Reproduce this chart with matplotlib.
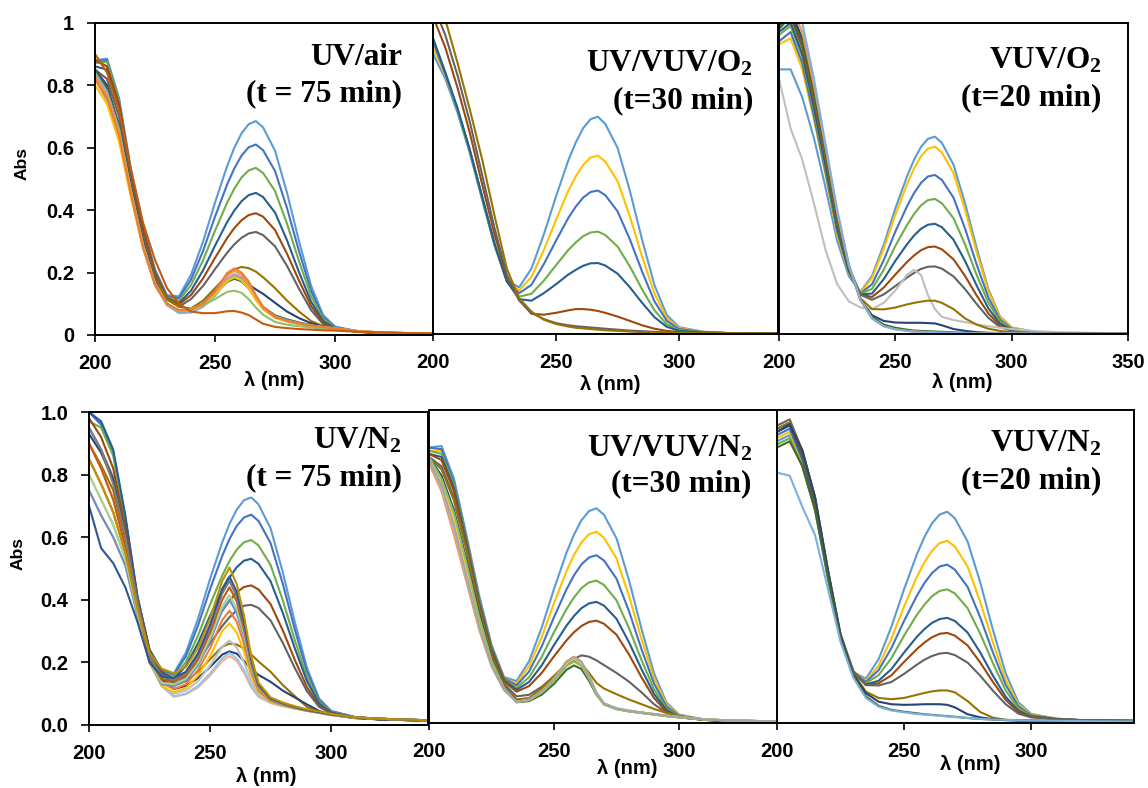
import matplotlib
matplotlib.use('Agg')
import matplotlib.pyplot as plt

plt.rcParams['mathtext.fontset'] = 'custom'
plt.rcParams['mathtext.rm'] = 'Liberation Serif:bold'
plt.rcParams['mathtext.bf'] = 'Liberation Serif:bold'
plt.rcParams['mathtext.it'] = 'Liberation Serif:bold'

# ---------------- data ----------------
wavelength = [200, 205, 210, 215, 220, 225, 230, 235, 240, 245, 250, 255, 258, 261,
              264, 267, 270, 275, 280, 285, 290, 295, 300, 310, 320, 340, 350]

# Panel: UV/air (t = 75 min)
uv_air_colors = ['#5B9BD5', '#4472C4', '#70AD47', '#255E91', '#9E480E', '#636363', '#997300',
                 '#264478', '#43682B', '#7CAFDD', '#A5A5A5', '#FFC000', '#8CC168', '#F1975A',
                 '#ED7D31', '#C55A11']
uv_air_abs = [
    [0.88, 0.885, 0.76, 0.53, 0.35, 0.21, 0.127, 0.124, 0.193, 0.299, 0.424, 0.54, 0.599, 0.645, 0.675, 0.685, 0.665, 0.59, 0.455, 0.30, 0.158, 0.064, 0.027, 0.011, 0.006, 0.004, 0.003],
    [0.875, 0.88, 0.75, 0.52, 0.34, 0.205, 0.124, 0.118, 0.177, 0.269, 0.379, 0.481, 0.533, 0.574, 0.601, 0.61, 0.592, 0.525, 0.406, 0.268, 0.142, 0.058, 0.025, 0.011, 0.006, 0.004, 0.003],
    [0.87, 0.875, 0.75, 0.52, 0.34, 0.2, 0.12, 0.11, 0.16, 0.239, 0.334, 0.423, 0.468, 0.504, 0.527, 0.535, 0.519, 0.461, 0.356, 0.236, 0.125, 0.052, 0.023, 0.011, 0.006, 0.004, 0.003],
    [0.86, 0.85, 0.73, 0.51, 0.33, 0.195, 0.116, 0.102, 0.142, 0.207, 0.286, 0.361, 0.398, 0.428, 0.448, 0.455, 0.442, 0.392, 0.303, 0.201, 0.107, 0.045, 0.021, 0.010, 0.006, 0.004, 0.003],
    [0.88, 0.86, 0.74, 0.52, 0.34, 0.2, 0.119, 0.098, 0.128, 0.181, 0.247, 0.31, 0.342, 0.367, 0.384, 0.39, 0.379, 0.336, 0.26, 0.174, 0.093, 0.04, 0.019, 0.010, 0.006, 0.004, 0.003],
    [0.85, 0.82, 0.70, 0.49, 0.32, 0.19, 0.113, 0.091, 0.115, 0.157, 0.211, 0.263, 0.29, 0.311, 0.325, 0.33, 0.32, 0.284, 0.221, 0.148, 0.08, 0.035, 0.018, 0.010, 0.006, 0.004, 0.003],
    [0.84, 0.78, 0.66, 0.47, 0.30, 0.18, 0.115, 0.09, 0.085, 0.11, 0.15, 0.19, 0.21, 0.218, 0.214, 0.203, 0.185, 0.15, 0.11, 0.075, 0.045, 0.028, 0.02, 0.011, 0.007, 0.004, 0.003],
    [0.85, 0.80, 0.67, 0.47, 0.30, 0.17, 0.10, 0.075, 0.08, 0.10, 0.14, 0.178, 0.185, 0.178, 0.162, 0.146, 0.132, 0.103, 0.075, 0.054, 0.038, 0.027, 0.02, 0.011, 0.007, 0.004, 0.003],
    [0.85, 0.79, 0.67, 0.47, 0.29, 0.165, 0.098, 0.075, 0.08, 0.097, 0.13, 0.17, 0.18, 0.172, 0.15, 0.118, 0.09, 0.063, 0.05, 0.04, 0.032, 0.026, 0.021, 0.012, 0.008, 0.004, 0.003],
    [0.84, 0.78, 0.66, 0.46, 0.28, 0.16, 0.095, 0.07, 0.072, 0.09, 0.125, 0.175, 0.19, 0.18, 0.155, 0.118, 0.088, 0.06, 0.047, 0.038, 0.031, 0.026, 0.022, 0.012, 0.008, 0.004, 0.003],
    [0.82, 0.75, 0.63, 0.45, 0.28, 0.16, 0.097, 0.075, 0.078, 0.095, 0.133, 0.18, 0.195, 0.185, 0.16, 0.12, 0.087, 0.057, 0.045, 0.036, 0.03, 0.025, 0.021, 0.012, 0.008, 0.004, 0.003],
    [0.80, 0.74, 0.62, 0.44, 0.28, 0.165, 0.10, 0.078, 0.08, 0.095, 0.13, 0.172, 0.185, 0.175, 0.15, 0.112, 0.082, 0.055, 0.043, 0.035, 0.029, 0.024, 0.02, 0.012, 0.008, 0.004, 0.003],
    [0.83, 0.77, 0.65, 0.46, 0.29, 0.165, 0.10, 0.078, 0.085, 0.095, 0.115, 0.138, 0.142, 0.135, 0.115, 0.088, 0.065, 0.042, 0.033, 0.028, 0.024, 0.02, 0.017, 0.011, 0.007, 0.004, 0.003],
    [0.83, 0.77, 0.65, 0.46, 0.29, 0.165, 0.10, 0.078, 0.08, 0.098, 0.137, 0.19, 0.205, 0.193, 0.165, 0.122, 0.086, 0.056, 0.044, 0.036, 0.03, 0.025, 0.021, 0.012, 0.008, 0.004, 0.003],
    [0.82, 0.76, 0.64, 0.45, 0.28, 0.16, 0.10, 0.08, 0.082, 0.10, 0.14, 0.198, 0.213, 0.20, 0.172, 0.128, 0.09, 0.058, 0.045, 0.037, 0.03, 0.025, 0.021, 0.012, 0.008, 0.004, 0.003],
    [0.90, 0.84, 0.72, 0.53, 0.36, 0.24, 0.15, 0.10, 0.075, 0.07, 0.07, 0.076, 0.077, 0.072, 0.064, 0.05, 0.036, 0.026, 0.022, 0.019, 0.017, 0.015, 0.014, 0.01, 0.008, 0.005, 0.004],
]

# Panel: UV/VUV/O2 (t=30 min)
uv_vuv_o2_colors = ['#5B9BD5', '#FFC000', '#4472C4', '#70AD47', '#255E91', '#9E480E', '#636363', '#997300']
uv_vuv_o2_abs = [
    [0.90, 0.82, 0.71, 0.58, 0.43, 0.285, 0.172, 0.15, 0.21, 0.319, 0.442, 0.558, 0.615, 0.661, 0.69, 0.698, 0.675, 0.598, 0.46, 0.302, 0.157, 0.061, 0.022, 0.007, 0.003, 0.002, 0.002],
    [0.92, 0.83, 0.72, 0.59, 0.44, 0.29, 0.17, 0.14, 0.183, 0.269, 0.367, 0.46, 0.506, 0.543, 0.567, 0.573, 0.554, 0.491, 0.378, 0.248, 0.13, 0.051, 0.019, 0.007, 0.003, 0.002, 0.002],
    [0.94, 0.835, 0.72, 0.59, 0.44, 0.29, 0.17, 0.131, 0.158, 0.224, 0.30, 0.373, 0.409, 0.438, 0.456, 0.461, 0.446, 0.394, 0.304, 0.20, 0.105, 0.042, 0.016, 0.006, 0.003, 0.002, 0.002],
    [0.95, 0.84, 0.72, 0.585, 0.435, 0.285, 0.168, 0.12, 0.129, 0.171, 0.221, 0.27, 0.294, 0.314, 0.326, 0.329, 0.318, 0.281, 0.217, 0.143, 0.076, 0.031, 0.013, 0.005, 0.003, 0.002, 0.002],
    [0.95, 0.84, 0.725, 0.59, 0.44, 0.29, 0.17, 0.112, 0.107, 0.131, 0.16, 0.191, 0.206, 0.219, 0.227, 0.228, 0.22, 0.194, 0.15, 0.10, 0.054, 0.023, 0.01, 0.005, 0.003, 0.002, 0.002],
    [1.02, 0.92, 0.79, 0.645, 0.48, 0.32, 0.185, 0.11, 0.065, 0.062, 0.068, 0.076, 0.08, 0.08, 0.078, 0.074, 0.068, 0.056, 0.042, 0.028, 0.017, 0.01, 0.006, 0.004, 0.003, 0.002, 0.002],
    [1.06, 0.96, 0.83, 0.68, 0.51, 0.34, 0.19, 0.108, 0.068, 0.048, 0.035, 0.028, 0.025, 0.023, 0.021, 0.019, 0.017, 0.014, 0.011, 0.009, 0.007, 0.005, 0.004, 0.003, 0.002, 0.002, 0.002],
    [1.12, 1.01, 0.87, 0.72, 0.56, 0.38, 0.21, 0.115, 0.072, 0.046, 0.032, 0.024, 0.02, 0.018, 0.016, 0.014, 0.012, 0.01, 0.008, 0.006, 0.005, 0.004, 0.003, 0.002, 0.002, 0.001, 0.001],
]

# Panel: VUV/O2 (t=20 min)
vuv_o2_colors = ['#5B9BD5', '#FFC000', '#4472C4', '#70AD47', '#255E91', '#9E480E', '#636363',
                 '#BFBFBF', '#997300', '#264478', '#43682B', '#F1975A', '#7CAFDD']
vuv_o2_abs = [
    [0.85, 0.85, 0.76, 0.63, 0.47, 0.30, 0.186, 0.135, 0.187, 0.286, 0.403, 0.506, 0.559, 0.601, 0.627, 0.634, 0.614, 0.544, 0.419, 0.275, 0.144, 0.056, 0.021, 0.007, 0.003, 0.002, 0.002],
    [0.93, 0.95, 0.85, 0.69, 0.51, 0.32, 0.196, 0.132, 0.18, 0.274, 0.383, 0.481, 0.531, 0.571, 0.595, 0.602, 0.583, 0.517, 0.398, 0.261, 0.137, 0.053, 0.02, 0.007, 0.003, 0.002, 0.002],
    [0.94, 0.97, 0.87, 0.70, 0.52, 0.33, 0.20, 0.13, 0.16, 0.237, 0.329, 0.41, 0.452, 0.485, 0.506, 0.511, 0.495, 0.438, 0.338, 0.222, 0.117, 0.046, 0.017, 0.006, 0.003, 0.002, 0.002],
    [0.96, 0.99, 0.89, 0.72, 0.53, 0.335, 0.204, 0.129, 0.145, 0.206, 0.283, 0.35, 0.385, 0.413, 0.43, 0.434, 0.42, 0.372, 0.287, 0.189, 0.10, 0.04, 0.016, 0.006, 0.003, 0.002, 0.002],
    [0.97, 1.0, 0.90, 0.73, 0.54, 0.34, 0.203, 0.127, 0.13, 0.176, 0.235, 0.288, 0.316, 0.338, 0.351, 0.354, 0.343, 0.303, 0.234, 0.155, 0.082, 0.033, 0.014, 0.005, 0.003, 0.002, 0.002],
    [0.99, 1.02, 0.92, 0.75, 0.56, 0.355, 0.213, 0.126, 0.119, 0.149, 0.191, 0.231, 0.252, 0.269, 0.279, 0.281, 0.272, 0.24, 0.186, 0.123, 0.066, 0.027, 0.012, 0.005, 0.003, 0.002, 0.002],
    [0.99, 1.03, 0.93, 0.76, 0.57, 0.36, 0.217, 0.126, 0.11, 0.127, 0.154, 0.181, 0.196, 0.209, 0.216, 0.217, 0.21, 0.185, 0.144, 0.096, 0.052, 0.022, 0.01, 0.005, 0.003, 0.002, 0.002],
    [0.82, 0.66, 0.56, 0.42, 0.27, 0.16, 0.105, 0.085, 0.08, 0.10, 0.14, 0.19, 0.206, 0.19, 0.125, 0.08, 0.055, 0.045, 0.038, 0.031, 0.025, 0.02, 0.016, 0.009, 0.006, 0.003, 0.003],
    [1.0, 1.04, 0.94, 0.77, 0.58, 0.37, 0.22, 0.115, 0.08, 0.079, 0.085, 0.095, 0.10, 0.104, 0.107, 0.107, 0.10, 0.08, 0.05, 0.03, 0.017, 0.01, 0.006, 0.004, 0.003, 0.002, 0.002],
    [1.0, 1.04, 0.95, 0.78, 0.59, 0.38, 0.22, 0.11, 0.06, 0.042, 0.037, 0.036, 0.036, 0.036, 0.035, 0.034, 0.028, 0.016, 0.01, 0.006, 0.004, 0.003, 0.002, 0.002, 0.002, 0.002, 0.002],
    [0.98, 1.02, 0.94, 0.78, 0.59, 0.38, 0.22, 0.11, 0.055, 0.03, 0.02, 0.014, 0.011, 0.01, 0.009, 0.008, 0.007, 0.005, 0.004, 0.003, 0.003, 0.002, 0.002, 0.002, 0.002, 0.001, 0.001],
    [1.05, 1.06, 0.97, 0.80, 0.60, 0.39, 0.22, 0.11, 0.05, 0.025, 0.015, 0.01, 0.008, 0.007, 0.006, 0.005, 0.004, 0.003, 0.003, 0.002, 0.002, 0.002, 0.002, 0.002, 0.001, 0.001, 0.001],
    [1.07, 1.08, 1.0, 0.82, 0.61, 0.40, 0.225, 0.11, 0.05, 0.025, 0.015, 0.01, 0.008, 0.007, 0.006, 0.005, 0.004, 0.003, 0.003, 0.002, 0.002, 0.002, 0.002, 0.002, 0.001, 0.001, 0.001],
]

# Panel: UV/N2 (t = 75 min)
uv_n2_colors = ['#5B9BD5', '#4472C4', '#70AD47', '#255E91', '#9E480E', '#636363', '#997300', '#264478',
                '#F4B183', '#9DC3E6', '#BFBFBF', '#FFC000', '#ED7D31', '#698ED0', '#A9D18E',
                '#C55A11', '#7F7F7F', '#2F5597', '#BF9000']
uv_n2_abs = [
    [1.0, 0.96, 0.87, 0.66, 0.41, 0.24, 0.177, 0.165, 0.231, 0.339, 0.467, 0.583, 0.642, 0.688, 0.718, 0.727, 0.705, 0.628, 0.489, 0.329, 0.183, 0.085, 0.045, 0.025, 0.018, 0.014, 0.012],
    [1.0, 0.96, 0.87, 0.66, 0.41, 0.24, 0.176, 0.16, 0.219, 0.317, 0.434, 0.54, 0.594, 0.636, 0.663, 0.672, 0.652, 0.581, 0.452, 0.305, 0.171, 0.08, 0.044, 0.025, 0.018, 0.014, 0.012],
    [0.97, 0.95, 0.86, 0.65, 0.40, 0.235, 0.171, 0.152, 0.201, 0.285, 0.385, 0.477, 0.524, 0.56, 0.584, 0.591, 0.574, 0.511, 0.399, 0.271, 0.153, 0.074, 0.042, 0.025, 0.018, 0.014, 0.012],
    [1.0, 0.97, 0.88, 0.67, 0.41, 0.24, 0.17, 0.147, 0.188, 0.261, 0.349, 0.43, 0.471, 0.504, 0.525, 0.531, 0.515, 0.459, 0.359, 0.245, 0.14, 0.069, 0.04, 0.024, 0.018, 0.014, 0.012],
    [0.98, 0.92, 0.82, 0.63, 0.40, 0.235, 0.164, 0.137, 0.167, 0.227, 0.298, 0.364, 0.397, 0.424, 0.441, 0.446, 0.433, 0.386, 0.303, 0.208, 0.121, 0.062, 0.038, 0.024, 0.018, 0.014, 0.012],
    [0.95, 0.88, 0.79, 0.61, 0.39, 0.23, 0.161, 0.131, 0.153, 0.203, 0.261, 0.316, 0.344, 0.366, 0.381, 0.384, 0.374, 0.334, 0.263, 0.182, 0.108, 0.058, 0.037, 0.024, 0.018, 0.014, 0.012],
    [0.90, 0.83, 0.75, 0.58, 0.38, 0.22, 0.15, 0.125, 0.14, 0.17, 0.21, 0.25, 0.26, 0.257, 0.245, 0.225, 0.203, 0.17, 0.128, 0.092, 0.058, 0.04, 0.032, 0.022, 0.018, 0.014, 0.012],
    [0.93, 0.87, 0.78, 0.60, 0.38, 0.22, 0.145, 0.115, 0.125, 0.15, 0.185, 0.225, 0.235, 0.228, 0.205, 0.178, 0.16, 0.138, 0.11, 0.088, 0.066, 0.045, 0.033, 0.022, 0.018, 0.014, 0.012],
    [0.90, 0.82, 0.72, 0.57, 0.38, 0.21, 0.125, 0.09, 0.098, 0.12, 0.158, 0.204, 0.22, 0.205, 0.168, 0.12, 0.09, 0.07, 0.06, 0.052, 0.045, 0.039, 0.032, 0.024, 0.02, 0.015, 0.013],
    [0.85, 0.77, 0.68, 0.55, 0.37, 0.21, 0.125, 0.092, 0.10, 0.125, 0.165, 0.213, 0.23, 0.213, 0.175, 0.125, 0.093, 0.072, 0.061, 0.053, 0.045, 0.039, 0.032, 0.024, 0.02, 0.015, 0.013],
    [0.80, 0.72, 0.64, 0.53, 0.36, 0.20, 0.125, 0.10, 0.11, 0.14, 0.19, 0.25, 0.27, 0.248, 0.20, 0.14, 0.098, 0.073, 0.062, 0.053, 0.045, 0.039, 0.032, 0.024, 0.02, 0.015, 0.013],
    [0.75, 0.67, 0.60, 0.51, 0.35, 0.20, 0.125, 0.105, 0.118, 0.158, 0.22, 0.30, 0.325, 0.295, 0.235, 0.158, 0.105, 0.075, 0.063, 0.054, 0.046, 0.04, 0.033, 0.024, 0.02, 0.015, 0.013],
    [0.85, 0.77, 0.68, 0.55, 0.37, 0.21, 0.135, 0.115, 0.13, 0.175, 0.245, 0.335, 0.365, 0.33, 0.26, 0.17, 0.11, 0.077, 0.064, 0.054, 0.046, 0.04, 0.033, 0.024, 0.02, 0.015, 0.013],
    [0.75, 0.67, 0.60, 0.51, 0.35, 0.20, 0.13, 0.125, 0.142, 0.19, 0.268, 0.365, 0.40, 0.358, 0.28, 0.18, 0.115, 0.079, 0.065, 0.055, 0.046, 0.04, 0.033, 0.024, 0.02, 0.015, 0.013],
    [0.80, 0.72, 0.64, 0.53, 0.36, 0.20, 0.135, 0.13, 0.148, 0.198, 0.278, 0.378, 0.415, 0.372, 0.29, 0.185, 0.118, 0.08, 0.066, 0.055, 0.046, 0.04, 0.033, 0.024, 0.02, 0.015, 0.013],
    [0.90, 0.82, 0.72, 0.57, 0.38, 0.21, 0.145, 0.14, 0.158, 0.21, 0.295, 0.40, 0.44, 0.395, 0.305, 0.195, 0.122, 0.082, 0.067, 0.056, 0.047, 0.04, 0.033, 0.024, 0.02, 0.015, 0.013],
    [0.95, 0.88, 0.77, 0.60, 0.39, 0.22, 0.155, 0.145, 0.165, 0.22, 0.31, 0.42, 0.46, 0.41, 0.32, 0.20, 0.125, 0.083, 0.068, 0.057, 0.048, 0.041, 0.034, 0.025, 0.02, 0.015, 0.013],
    [0.70, 0.565, 0.517, 0.44, 0.33, 0.20, 0.155, 0.15, 0.17, 0.228, 0.32, 0.435, 0.475, 0.425, 0.33, 0.21, 0.13, 0.085, 0.07, 0.058, 0.048, 0.041, 0.034, 0.025, 0.02, 0.015, 0.013],
    [0.85, 0.77, 0.68, 0.55, 0.37, 0.23, 0.18, 0.165, 0.185, 0.245, 0.34, 0.46, 0.503, 0.45, 0.35, 0.22, 0.135, 0.088, 0.072, 0.06, 0.05, 0.043, 0.035, 0.025, 0.02, 0.015, 0.013],
]

# Panel: UV/VUV/N2 (t=30 min)
uv_vuv_n2_colors = ['#5B9BD5', '#FFC000', '#4472C4', '#70AD47', '#255E91', '#9E480E', '#636363', '#997300',
                    '#264478', '#43682B', '#7CAFDD', '#F1975A', '#B7B7B7', '#FFCD33', '#8CC168', '#A5A5A5']
uv_vuv_n2_abs = [
    [0.88, 0.885, 0.78, 0.60, 0.41, 0.25, 0.147, 0.134, 0.197, 0.303, 0.428, 0.544, 0.602, 0.648, 0.677, 0.686, 0.665, 0.59, 0.456, 0.301, 0.159, 0.065, 0.027, 0.011, 0.006, 0.004, 0.003],
    [0.87, 0.87, 0.77, 0.59, 0.40, 0.245, 0.144, 0.126, 0.181, 0.273, 0.383, 0.485, 0.537, 0.577, 0.603, 0.611, 0.592, 0.526, 0.406, 0.268, 0.143, 0.059, 0.025, 0.011, 0.006, 0.004, 0.003],
    [0.88, 0.875, 0.77, 0.59, 0.40, 0.245, 0.143, 0.12, 0.164, 0.243, 0.338, 0.427, 0.472, 0.507, 0.529, 0.536, 0.519, 0.461, 0.357, 0.236, 0.126, 0.053, 0.023, 0.011, 0.006, 0.004, 0.003],
    [0.87, 0.86, 0.76, 0.58, 0.39, 0.24, 0.139, 0.112, 0.146, 0.21, 0.29, 0.364, 0.401, 0.431, 0.449, 0.455, 0.441, 0.392, 0.303, 0.201, 0.108, 0.046, 0.021, 0.01, 0.006, 0.004, 0.003],
    [0.86, 0.85, 0.75, 0.575, 0.385, 0.235, 0.137, 0.106, 0.131, 0.183, 0.249, 0.311, 0.342, 0.367, 0.382, 0.387, 0.375, 0.333, 0.258, 0.172, 0.093, 0.041, 0.019, 0.01, 0.006, 0.004, 0.003],
    [0.86, 0.84, 0.74, 0.57, 0.38, 0.23, 0.133, 0.10, 0.118, 0.159, 0.213, 0.264, 0.29, 0.31, 0.323, 0.327, 0.317, 0.282, 0.219, 0.146, 0.08, 0.036, 0.018, 0.01, 0.006, 0.004, 0.003],
    [0.85, 0.82, 0.72, 0.56, 0.37, 0.22, 0.125, 0.085, 0.09, 0.115, 0.15, 0.188, 0.205, 0.216, 0.212, 0.20, 0.185, 0.16, 0.132, 0.098, 0.06, 0.033, 0.02, 0.01, 0.006, 0.004, 0.003],
    [0.85, 0.81, 0.71, 0.55, 0.365, 0.215, 0.12, 0.075, 0.08, 0.11, 0.15, 0.19, 0.205, 0.19, 0.16, 0.128, 0.11, 0.092, 0.075, 0.06, 0.045, 0.032, 0.022, 0.011, 0.007, 0.004, 0.003],
    [0.85, 0.79, 0.68, 0.52, 0.35, 0.205, 0.115, 0.07, 0.075, 0.098, 0.135, 0.185, 0.20, 0.186, 0.145, 0.095, 0.062, 0.046, 0.038, 0.033, 0.028, 0.023, 0.019, 0.012, 0.008, 0.005, 0.004],
    [0.84, 0.78, 0.66, 0.50, 0.34, 0.20, 0.112, 0.066, 0.07, 0.09, 0.125, 0.17, 0.184, 0.172, 0.135, 0.09, 0.06, 0.045, 0.037, 0.032, 0.027, 0.022, 0.018, 0.011, 0.008, 0.005, 0.004],
    [0.84, 0.76, 0.64, 0.48, 0.32, 0.19, 0.108, 0.068, 0.075, 0.10, 0.14, 0.195, 0.21, 0.194, 0.15, 0.095, 0.06, 0.045, 0.038, 0.033, 0.028, 0.023, 0.019, 0.012, 0.008, 0.005, 0.004],
    [0.83, 0.74, 0.60, 0.45, 0.30, 0.18, 0.105, 0.068, 0.075, 0.10, 0.142, 0.197, 0.212, 0.196, 0.15, 0.095, 0.06, 0.045, 0.038, 0.033, 0.028, 0.023, 0.019, 0.012, 0.008, 0.005, 0.004],
    [0.84, 0.75, 0.62, 0.46, 0.31, 0.185, 0.106, 0.067, 0.074, 0.098, 0.138, 0.192, 0.207, 0.19, 0.146, 0.093, 0.06, 0.045, 0.038, 0.033, 0.028, 0.023, 0.019, 0.012, 0.008, 0.005, 0.004],
    [0.85, 0.77, 0.65, 0.49, 0.33, 0.195, 0.11, 0.068, 0.074, 0.098, 0.137, 0.19, 0.205, 0.19, 0.147, 0.094, 0.06, 0.045, 0.038, 0.033, 0.028, 0.023, 0.019, 0.012, 0.008, 0.005, 0.004],
    [0.85, 0.78, 0.67, 0.51, 0.34, 0.20, 0.113, 0.067, 0.073, 0.096, 0.133, 0.182, 0.196, 0.182, 0.142, 0.092, 0.059, 0.044, 0.037, 0.032, 0.027, 0.022, 0.018, 0.011, 0.008, 0.005, 0.004],
    [0.84, 0.76, 0.63, 0.47, 0.31, 0.185, 0.107, 0.068, 0.075, 0.10, 0.14, 0.195, 0.21, 0.195, 0.15, 0.096, 0.062, 0.047, 0.04, 0.034, 0.029, 0.024, 0.02, 0.012, 0.008, 0.005, 0.004],
]

# Panel: VUV/N2 (t=20 min)
vuv_n2_colors = ['#5B9BD5', '#FFC000', '#4472C4', '#70AD47', '#255E91', '#9E480E', '#636363', '#997300',
                 '#264478', '#43682B', '#7CAFDD']
vuv_n2_abs = [
    [0.90, 0.92, 0.82, 0.68, 0.46, 0.265, 0.162, 0.142, 0.204, 0.307, 0.427, 0.538, 0.594, 0.638, 0.666, 0.675, 0.654, 0.58, 0.449, 0.297, 0.159, 0.066, 0.029, 0.014, 0.009, 0.007, 0.006],
    [0.91, 0.93, 0.83, 0.69, 0.47, 0.27, 0.163, 0.135, 0.183, 0.269, 0.372, 0.466, 0.513, 0.55, 0.575, 0.582, 0.564, 0.50, 0.387, 0.257, 0.138, 0.059, 0.027, 0.014, 0.009, 0.007, 0.006],
    [0.92, 0.94, 0.84, 0.69, 0.47, 0.27, 0.163, 0.131, 0.169, 0.239, 0.326, 0.406, 0.447, 0.479, 0.50, 0.506, 0.49, 0.435, 0.337, 0.225, 0.122, 0.053, 0.025, 0.013, 0.009, 0.007, 0.006],
    [0.89, 0.91, 0.82, 0.68, 0.47, 0.27, 0.162, 0.127, 0.153, 0.207, 0.279, 0.345, 0.378, 0.405, 0.422, 0.427, 0.414, 0.367, 0.285, 0.191, 0.104, 0.046, 0.023, 0.013, 0.009, 0.007, 0.006],
    [0.93, 0.95, 0.85, 0.70, 0.48, 0.275, 0.163, 0.123, 0.135, 0.172, 0.225, 0.275, 0.30, 0.32, 0.332, 0.336, 0.326, 0.289, 0.225, 0.151, 0.084, 0.039, 0.021, 0.013, 0.009, 0.007, 0.006],
    [0.94, 0.96, 0.86, 0.71, 0.485, 0.28, 0.165, 0.121, 0.127, 0.152, 0.195, 0.236, 0.257, 0.274, 0.285, 0.288, 0.279, 0.248, 0.193, 0.131, 0.074, 0.035, 0.02, 0.012, 0.009, 0.007, 0.006],
    [0.95, 0.97, 0.87, 0.72, 0.49, 0.285, 0.167, 0.121, 0.12, 0.131, 0.157, 0.186, 0.202, 0.214, 0.222, 0.224, 0.217, 0.193, 0.151, 0.103, 0.06, 0.03, 0.018, 0.012, 0.009, 0.007, 0.006],
    [0.94, 0.96, 0.87, 0.72, 0.49, 0.28, 0.16, 0.10, 0.08, 0.076, 0.08, 0.09, 0.096, 0.101, 0.104, 0.104, 0.098, 0.07, 0.035, 0.017, 0.01, 0.008, 0.007, 0.006, 0.006, 0.005, 0.005],
    [0.93, 0.955, 0.87, 0.72, 0.49, 0.28, 0.155, 0.095, 0.068, 0.06, 0.058, 0.059, 0.06, 0.06, 0.06, 0.058, 0.05, 0.028, 0.018, 0.012, 0.009, 0.008, 0.007, 0.006, 0.006, 0.005, 0.005],
    [0.88, 0.90, 0.82, 0.68, 0.47, 0.27, 0.15, 0.085, 0.055, 0.042, 0.036, 0.031, 0.028, 0.026, 0.024, 0.022, 0.02, 0.016, 0.013, 0.011, 0.01, 0.009, 0.008, 0.007, 0.006, 0.005, 0.005],
    [0.80, 0.79, 0.69, 0.60, 0.43, 0.26, 0.145, 0.08, 0.052, 0.04, 0.034, 0.029, 0.027, 0.025, 0.023, 0.021, 0.019, 0.016, 0.013, 0.011, 0.01, 0.009, 0.008, 0.007, 0.006, 0.005, 0.005],
]

titles = [
    ("UV/air", "(t = 75 min)"),
    (r"UV/VUV/O$_\mathbf{2}$", "(t=30 min)"),
    (r"VUV/O$_\mathbf{2}$", "(t=20 min)"),
    (r"UV/N$_\mathbf{2}$", "(t = 75 min)"),
    (r"UV/VUV/N$_\mathbf{2}$", "(t=30 min)"),
    (r"VUV/N$_\mathbf{2}$", "(t=20 min)"),
]

# ---------------- layout ----------------
W, H = 1148, 788
fig = plt.figure(figsize=(W / 100, H / 100), dpi=100)


def rect(l, t, r, b):
    return [l / W, 1 - b / H, (r - l) / W, (b - t) / H]


panels = [
    dict(box=(95, 22.7, 433, 335), xmax=340.8, data=uv_air_abs, colors=uv_air_colors,
         ylab=['0', '0.2', '0.4', '0.6', '0.8', '1'], txt=(0.908, 0.865, 0.747), xl=(274, 381)),
    dict(box=(433, 22.7, 778, 334), xmax=340.2, data=uv_vuv_o2_abs, colors=uv_vuv_o2_colors,
         ylab=None, txt=(0.928, 0.842, 0.726), xl=(610, 385)),
    dict(box=(779, 22.7, 1128, 334), xmax=350, data=vuv_o2_abs, colors=vuv_o2_colors,
         ylab=None, txt=(0.925, 0.854, 0.736), xl=(962, 383)),
    dict(box=(89, 412, 428, 725), xmax=340, data=uv_n2_abs, colors=uv_n2_colors,
         ylab=['0.0', '0.2', '0.4', '0.6', '0.8', '1.0'], txt=(0.923, 0.882, 0.765), xl=(266, 777)),
    dict(box=(429, 410, 778, 723), xmax=339.6, data=uv_vuv_n2_abs, colors=uv_vuv_n2_colors,
         ylab=None, txt=(0.925, 0.853, 0.739), xl=(627, 768)),
    dict(box=(777, 410, 1134, 723), xmax=340.5, data=vuv_n2_abs, colors=vuv_n2_colors,
         ylab=None, txt=(0.908, 0.867, 0.75), xl=(970, 765)),
]

tick_font = dict(family='Liberation Sans', weight='bold', size=14.5)

for i, p in enumerate(panels):
    ax = fig.add_axes(rect(*p['box']))
    for vals, c in zip(p['data'], p['colors']):
        ax.plot(wavelength, vals, color=c, lw=1.5, solid_capstyle='round', solid_joinstyle='round')
    ax.set_xlim(200, p['xmax'])
    ax.set_ylim(0, 1)
    xt = [200, 250, 300] + ([350] if p['xmax'] >= 350 else [])
    ax.set_xticks(xt)
    ax.set_xticklabels([str(v) for v in xt], fontdict=tick_font)
    ax.tick_params(axis='x', direction='out', length=5, width=1.2, pad=9, top=False)
    ax.set_yticks([0, 0.2, 0.4, 0.6, 0.8, 1.0])
    if p['ylab'] is not None:
        ax.set_yticklabels(p['ylab'], fontdict=tick_font)
        ax.tick_params(axis='y', direction='out', length=6, width=1.2, pad=9, right=False)
    else:
        ax.set_yticklabels([])
        ax.tick_params(axis='y', length=0, right=False)
    for s in ax.spines.values():
        s.set_color('black')
        s.set_linewidth(1.4)
    l1, l2 = titles[i]
    tx, ty1, ty2 = p['txt']
    ax.text(tx, ty1, l1, transform=ax.transAxes, ha='right', va='baseline',
            family='Liberation Serif', weight='bold', size=22.5)
    ax.text(tx, ty2, l2, transform=ax.transAxes, ha='right', va='baseline',
            family='Liberation Serif', weight='bold', size=22.5)
    fig.text(p['xl'][0] / W, 1 - p['xl'][1] / H, 'λ (nm)', ha='center', va='center',
             family='Liberation Sans', weight='bold', size=14.5)

fig.text(22 / W, 1 - 163 / H, 'Abs', rotation=90, ha='center', va='center',
         family='Liberation Sans', weight='bold', size=12.5)
fig.text(18 / W, 1 - 553 / H, 'Abs', rotation=90, ha='center', va='center',
         family='Liberation Sans', weight='bold', size=12.5)

fig.savefig('out.png', dpi=100, facecolor='white')
